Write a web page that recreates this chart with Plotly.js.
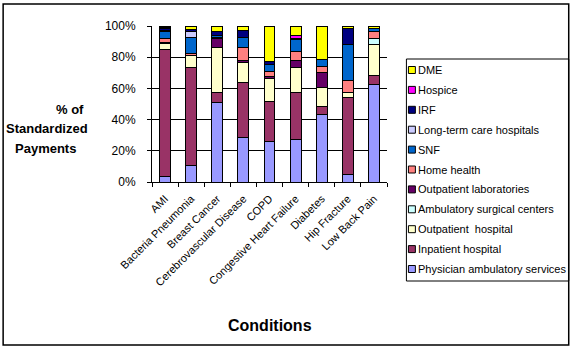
<!DOCTYPE html>
<html>
<head>
<meta charset="utf-8">
<script src="https://cdn.plot.ly/plotly-3.0.1.min.js"></script>
<style>
  body { margin: 0; background: #fff; }
  #chart { width: 575px; height: 351px; }
</style>
</head>
<body>
<div id="chart"></div>
<script>
// conditions on the x axis
const conditions = ['AMI', 'Bacteria Pneumonia', 'Breast Cancer', 'Cerebrovascular Disease', 'COPD',
    'Congestive Heart Failure', 'Diabetes', 'Hip Fracture', 'Low Back Pain'];

// share of standardized payments (%), per setting, in condition order
const physician   = [3.6, 10.7, 50.9, 28.4, 26.1, 27.4, 43.2, 4.7, 62.6];
const inpatient   = [81.2, 62.6, 6.4, 35.3, 25.8, 29.7, 5.1, 49.4, 5.8];
const outHospital = [4.3, 7.9, 28.8, 13.2, 14.3, 16.2, 12.0, 3.4, 19.8];
const ambSurgical = [0, 0, 0, 0, 0, 0, 0, 0, 3.7];
const outLabs     = [0.3, 0, 5.8, 1.3, 1.5, 4.5, 9.8, 0, 0];
const homeHealth  = [2.8, 1.0, 0.7, 7.9, 3.0, 6.0, 3.8, 7.5, 4.3];
const snf         = [4.3, 10.3, 1.0, 6.8, 4.5, 7.4, 4.5, 23.0, 1.9];
const ltch        = [0.3, 4.1, 0.4, 0, 0, 0, 0, 0, 0];
const irf         = [1.8, 1.3, 2.5, 4.3, 2.2, 0.6, 0, 10.5, 0.5];
const hospice     = [0.2, 0, 0.2, 0.2, 0, 2.1, 0, 0, 0];
const dme         = [1.2, 2.1, 3.3, 2.6, 22.6, 6.1, 21.6, 1.5, 1.4];

const seriesNames = ['Physician ambulatory services', 'Inpatient hospital', 'Outpatient  hospital',
    'Ambulatory surgical centers', 'Outpatient laboratories', 'Home health', 'SNF',
    'Long-term care hospitals', 'IRF', 'Hospice', 'DME'];
const seriesValues = [physician, inpatient, outHospital, ambSurgical, outLabs, homeHealth, snf,
    ltch, irf, hospice, dme];
const seriesColors = ['#9999FF', '#993366', '#FFFFCC', '#CCFFFF', '#660066', '#FF8080', '#0066CC',
    '#CCCCFF', '#000080', '#FF00FF', '#FFFF00'];

const font = 'Liberation Sans, Arial, sans-serif';

// plot area in pixels, used to place the boxed legend and titles
const plotL = 151.5, plotR = 387.5, plotT = 26, plotB = 182;
const px = x => (x - plotL) / (plotR - plotL);
const py = y => (plotB - y) / (plotB - plotT);

const data = seriesNames.map((name, i) => ({
    x: conditions,
    y: seriesValues[i],
    name: name,
    type: 'bar',
    marker: {
        color: seriesColors[i],
        line: { color: '#000', width: 1 }
    }
}));

const shapes = [{
    // chart border
    type: 'rect', xref: 'paper', yref: 'paper',
    x0: px(2), x1: px(570), y0: py(345), y1: py(4),
    line: { color: '#000', width: 1.5 }
}, {
    // legend box
    type: 'rect', xref: 'paper', yref: 'paper',
    x0: px(407), x1: px(570), y0: py(281), y1: py(59),
    line: { color: '#000', width: 1 }
}];

const annotations = [
    { text: '<b>% of</b>', x: px(69), y: py(109), size: 13 },
    { text: '<b>Standardized</b>', x: px(46), y: py(128), size: 13 },
    { text: '<b>Payments</b>', x: px(45), y: py(148), size: 13 },
    { text: '<b>Conditions</b>', x: px(270), y: py(325), size: 16 }
].map(a => ({
    text: a.text, xref: 'paper', yref: 'paper', x: a.x, y: a.y,
    xanchor: 'center', yanchor: 'middle', showarrow: false,
    font: { family: font, size: a.size, color: '#000' }
}));

// legend entries, top to bottom in reverse stacking order
for (let k = 0; k < seriesNames.length; k++) {
    const i = seriesNames.length - 1 - k;
    const yc = 70 + k * 19.9;
    shapes.push({
        type: 'rect', xref: 'paper', yref: 'paper',
        x0: px(409), x1: px(416), y0: py(yc + 3.5), y1: py(yc - 3.5),
        fillcolor: seriesColors[i],
        line: { color: '#000', width: 1 }
    });
    annotations.push({
        text: seriesNames[i], xref: 'paper', yref: 'paper',
        x: px(417), y: py(yc), xanchor: 'left', yanchor: 'middle', showarrow: false,
        font: { family: font, size: 11, color: '#000' }
    });
}

const layout = {
    width: 575,
    height: 351,
    margin: { l: plotL, r: 575 - plotR, t: plotT, b: 351 - plotB },
    barmode: 'stack',
    bargap: 0.58,
    paper_bgcolor: '#fff',
    plot_bgcolor: '#fff',
    font: { family: font, size: 12, color: '#000' },
    showlegend: false,
    xaxis: {
        type: 'category',
        tickangle: -45,
        tickson: 'boundaries',
        ticks: 'outside',
        ticklen: 4,
        tickcolor: '#000',
        ticklabelstandoff: 5,
        showline: true,
        linecolor: '#000',
        showgrid: false,
        tickfont: { family: font, size: 11 }
    },
    yaxis: {
        range: [0, 100],
        dtick: 20,
        ticksuffix: '%',
        ticks: 'outside',
        ticklen: 4,
        tickcolor: '#000',
        ticklabelstandoff: 9,
        showline: true,
        linecolor: '#000',
        gridcolor: '#000',
        zeroline: false,
        tickfont: { family: font, size: 12 }
    },
    annotations: annotations,
    shapes: shapes
};

Plotly.newPlot('chart', data, layout, { displayModeBar: false, staticPlot: true });
</script>
</body>
</html>
